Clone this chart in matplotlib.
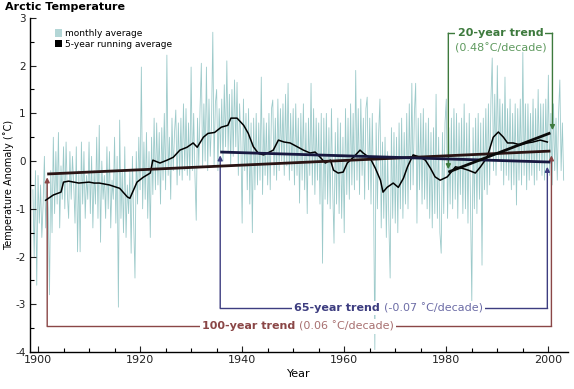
import numpy as np
import matplotlib
matplotlib.use("Agg")
import matplotlib.pyplot as plt
from matplotlib.patches import Patch

# monthly anomaly (4 values per year, 1899 - 2003)
monthly_anom = [
    -0.6, -2.0, -0.2, -2.6,  -0.3, -1.3, -0.5, -1.6,  -0.9, 0.1, -1.4, -0.4,
    -1.0, -2.8, -0.2, -1.5,  0.5, -1.1, 0.2, -0.9,  0.6, -1.4, -0.1, -0.8,
    0.3, -1.0, 0.4, -0.7,  -1.2, 0.2, -0.8, 0.1,  -0.5, -1.3, 0.3, -1.9,
    -0.2, -1.9, 0.4, -0.9,  0.2, -1.2, -0.3, -0.8,  0.4, -1.1, 0.1, -1.4,
    -0.2, -0.9, 0.5, -1.2,  0.75, -1.7, 0.0, -0.8,  -0.3, -1.2, 0.3, -1.0,
    0.2, -1.4, -0.4, -0.8,  0.5, -1.3, 0.1, -3.06,  0.86, -1.2, -0.2, -1.5,
    0.3, -1.6, -0.5, -1.1,  -0.2, -1.93, 0.1, -1.3,  -2.45, 0.2, -0.9, 0.5,
    -0.6, 1.97, -1.0, 0.4,  -0.8, 0.6, -1.2, 0.2,  -1.6, 0.5, -0.7, 0.9,
    -0.6, 0.8, -0.5, 0.6,  -0.9, 0.7, -0.4, 1.0,  -0.6, 2.22, -0.3, 0.5,
    -0.8, 0.9, -0.2, 0.6,  1.07, -0.5, 0.8, -0.3,  0.9, -0.4, 1.2, -0.2,
    1.1, -0.3, 0.8, -0.4,  1.97, -0.2, 1.0, -0.3,  -1.24, 0.9, -0.1, 1.1,
    2.05, -0.1, 1.2, 0.0,  1.97, -0.2, 1.3, 0.1,  0.8, 2.7, -0.1, 1.2,
    1.5, -0.2, 1.1, 0.2,  1.3, 0.0, 1.6, 0.3,  2.1, 0.2, 1.4, -0.1,
    1.5, 0.1, 1.7, 0.3,  1.65, -0.3, 1.2, 0.4,  -1.3, 1.3, -0.2, 1.0,
    -0.6, 1.1, -0.9, 0.8,  -1.5, 0.9, -0.6, 1.0,  -0.5, 0.8, -0.4, 1.76,
    -0.7, 0.9, -0.3, 0.8,  -0.5, 1.0, -0.6, 1.1,  1.28, -0.3, 0.9, -0.4,
    1.3, -0.2, 1.1, 0.0,  1.2, -0.3, 1.4, -0.1,  1.63, -0.4, 1.0, -0.2,
    1.1, -0.5, 1.2, -0.3,  0.9, -0.88, 1.0, -0.4,  1.2, -0.6, 0.8, -1.1,
    0.9, -0.3, 1.63, -0.5,  1.1, -0.7, 0.9, -0.4,  0.8, -0.9, 1.0, -2.14,
    0.9, -0.8, 1.0, -0.9,  0.7, -1.0, 1.1, -0.6,  -1.72, 0.6, -0.9, 0.9,
    -1.1, 0.8, -1.2, 0.5,  -1.5, 1.1, -0.7, 0.9,  -0.8, 1.2, -0.5, 1.0,
    -0.6, 1.9, -0.4, 1.1,  -0.7, 1.3, -0.3, 0.9,  -0.8, 1.1, 1.34, -0.6,
    0.9, -0.9, 1.0, -0.7,  -3.95, 0.8, -1.0, 0.6,  1.3, -1.4, 0.4, -1.2,
    0.5, -1.6, 0.2, -1.3,  -2.45, 0.7, -1.2, 0.6,  -1.3, 0.5, -1.5, 0.8,
    -1.0, 0.9, -1.2, 0.6,  -0.9, 1.0, -1.0, 1.2,  -0.6, 1.63, -0.5, 1.0,
    1.63, -1.3, 0.9, -0.6,  1.0, -0.9, 1.1, -0.8,  0.8, -1.0, 0.9, -1.2,
    0.6, -1.4, 0.7, -1.1,  1.4, -1.2, 0.5, -1.5,  -1.93, 0.6, -1.1, 0.8,
    1.3, -1.2, 0.7, -0.9,  0.9, -1.0, 1.1, -0.8,  1.0, -1.2, 0.8, -0.7,
    0.9, -1.1, 1.2, -1.0,  0.8, -1.3, 1.0, -0.9,  -2.98, 0.7, -1.0, 0.9,
    -1.1, 1.0, -0.8, 0.8,  -2.18, 0.9, -0.6, 1.1,  -0.7, 1.2, -0.5, 1.3,
    2.16, -0.2, 1.4, -0.3,  2.0, 0.0, 1.3, -0.2,  1.2, -0.5, 1.76, -0.3,
    1.1, -0.4, 1.3, -0.6,  1.0, -0.5, 1.2, -0.92,  1.1, -0.4, 1.3, -0.5,
    2.28, -0.3, 1.2, -0.6,  1.2, -0.4, 1.0, -0.3,  1.3, -0.5, 1.1, -0.4,
    1.5, -0.2, 1.2, -0.3,  1.2, -0.4, 1.3, -0.2,  1.8, -0.3, 1.0, -0.5,
    1.2, -0.2, 0.9, -0.4,  1.0, 1.7, -0.2, 0.8,  -0.4,
]
monthly_year = 1899.0 + np.arange(len(monthly_anom)) * 0.25

# 5-year running average
smooth_year = [1901.5, 1903, 1904.5, 1905, 1906, 1907, 1908, 1910, 1911, 1912,
               1914, 1916, 1917.5, 1918, 1919.4, 1920.6, 1922, 1922.5, 1923.9,
               1925.3, 1926.5, 1927.8, 1929.2, 1930.4, 1931.2, 1932.4, 1933.3,
               1934.6, 1935.9, 1937.2, 1937.8, 1939, 1940.3, 1941.2, 1942.2,
               1943.2, 1944.2, 1945, 1946.1, 1947.1, 1948.2, 1949.4, 1950.8,
               1952, 1953.3, 1954.3, 1955.3, 1956.3, 1957.3, 1957.9, 1958.8,
               1959.8, 1960.6, 1961.8, 1963.1, 1963.7, 1965.1, 1966.1, 1967.1,
               1967.6, 1968.4, 1969.6, 1970.6, 1971.6, 1972.4, 1973.5, 1974.9,
               1975.9, 1976.9, 1977.8, 1978.8, 1980.2, 1981.8, 1983.1, 1984.3,
               1985.7, 1986.7, 1988, 1989.2, 1990.2, 1991.2, 1992, 1993.1,
               1994.5, 1995.9, 1997, 1998.4, 1999.8]
smooth_val = [-0.82, -0.71, -0.65, -0.44, -0.42, -0.44, -0.46, -0.44, -0.46, -0.46,
              -0.5, -0.57, -0.75, -0.78, -0.44, -0.34, -0.25, 0.02, -0.04,
              0.02, 0.08, 0.23, 0.29, 0.38, 0.29, 0.5, 0.58,
              0.6, 0.71, 0.75, 0.9, 0.9, 0.75, 0.58, 0.3,
              0.16, 0.13, 0.17, 0.23, 0.44, 0.4, 0.38, 0.3,
              0.23, 0.17, 0.19, 0.08, -0.04, 0.02, -0.19, -0.25,
              -0.23, -0.04, 0.08, 0.23, 0.17, 0.06, -0.15, -0.4,
              -0.65, -0.55, -0.46, -0.55, -0.36, -0.12, 0.13, 0.08,
              0.02, -0.15, -0.33, -0.4, -0.33, -0.12, -0.15, -0.19,
              -0.25, -0.12, 0.08, 0.5, 0.61, 0.5, 0.38, 0.38,
              0.34, 0.38, 0.4, 0.44, 0.4]

# trend lines (start year, end year, start value, end value)
trend_names = ["100-year", "65-year", "20-year"]
trend_rates = ["(0.06 \u02daC/decade)", "(-0.07 \u02daC/decade)", "(0.48\u02daC/decade)"]
trend_x = [[1901.8, 2000.4], [1935.7, 2000.4], [1980.4, 2000.4]]
trend_y = [[-0.27, 0.21], [0.19, -0.02], [-0.23, 0.59]]

brown, brown_l = "#8a4646", "#a87070"
navy, navy_l = "#3d3d80", "#6c6ca6"
green, green_l = "#3d7a3d", "#5f9a5f"

plt.rcParams["font.family"] = "DejaVu Sans"
plt.rcParams["axes.unicode_minus"] = False
fig = plt.figure(figsize=(5.74, 3.89), dpi=100)
ax = fig.add_axes([0.052, 0.095, 0.938, 0.859])

ax.plot(monthly_year, monthly_anom, color="#9ccaca", lw=0.6, zorder=1)
ax.plot(smooth_year, smooth_val, color="black", lw=1.1, zorder=3)

line_cols = ["#2a1414", "#181840", "#0a0a0a"]
for tx, ty, c in zip(trend_x, trend_y, line_cols):
    ax.plot(tx, ty, color=c, lw=2.0, solid_capstyle="butt", zorder=4)

ax.set_xlim(1898.4, 2003.9)
ax.set_ylim(-4, 3)
ax.set_xticks(np.arange(1900, 2001, 20))
ax.set_xticks(np.arange(1900, 2004, 5), minor=True)
ax.set_yticks(np.arange(-4, 4, 1))
ax.set_yticks(np.arange(-4, 3.01, 0.5), minor=True)
ax.tick_params(direction="in", length=4, width=0.8, labelsize=8, pad=2, colors="#222222")
ax.tick_params(which="minor", direction="in", length=3, width=0.8)
ax.tick_params(axis="y", pad=3, labelsize=7.5)
for s in ["top", "right"]:
    ax.spines[s].set_visible(False)
for s in ["left", "bottom"]:
    ax.spines[s].set_linewidth(1.0)

ax.set_xlabel("Year", fontsize=8, labelpad=3)
ax.set_ylabel("Temperature Anomaly (\u02daC)", fontsize=7)
ax.yaxis.set_label_coords(-0.029, 0.5)
fig.text(0.008, 0.995, "Arctic Temperature", fontsize=8, fontweight="bold", va="top")

handles = [Patch(facecolor="#b3d6d6", edgecolor="none"),
           Patch(facecolor="black", edgecolor="none")]
ax.legend(handles, ["monthly average", "5-year running average"], loc="upper left",
          bbox_to_anchor=(0.035, 0.985), frameon=False, fontsize=6.5,
          handlelength=0.8, handleheight=0.9, handletextpad=0.3, labelspacing=0.15,
          borderpad=0.2)

def bracket(x0, x1, ylev, tip0, tip1, col, col_l, name, rate, two_lines=False):
    ax.plot([x0, x1], [ylev, ylev], color=col, lw=1.0, zorder=2)
    for xx, tt in [(x0, tip0), (x1, tip1)]:
        ax.annotate("", xy=(xx, tt), xytext=(xx, ylev),
                    arrowprops=dict(arrowstyle="-|>", color=col, lw=1.0,
                                    mutation_scale=7, shrinkA=0, shrinkB=0),
                    zorder=2)
    xm = 0.5 * (x0 + x1)
    bb = dict(facecolor="white", edgecolor="none", pad=1.5)
    if two_lines:
        ax.text(xm, ylev, name + " trend", color=col, fontsize=8, fontweight="bold",
                ha="center", va="center", bbox=bb, zorder=5)
        ax.text(xm, ylev - 0.32, rate, color=col_l, fontsize=8,
                ha="center", va="center", zorder=5)
    else:
        ax.text(xm, ylev, name + " trend ", color=col, fontsize=8, fontweight="bold",
                ha="right", va="center", bbox=bb, zorder=5)
        ax.text(xm, ylev, rate, color=col_l, fontsize=8,
                ha="left", va="center", bbox=bb, zorder=5)

# 100-year bracket
bracket(trend_x[0][0], trend_x[0][1] + 0.2, -3.46, trend_y[0][0] - 0.07,
        trend_y[0][1] - 0.09, brown, brown_l, trend_names[0], trend_rates[0])
# 65-year bracket
bracket(trend_x[1][0], trend_x[1][1] - 0.6, -3.08, trend_y[1][0] - 0.07,
        trend_y[1][1] - 0.1, navy, navy_l, trend_names[1], trend_rates[1])
# 20-year bracket
bracket(trend_x[2][0], trend_x[2][1] + 0.4, 2.68, trend_y[2][0] + 0.06,
        trend_y[2][1] + 0.06, green, green_l, trend_names[2], trend_rates[2],
        two_lines=True)

fig.savefig("out.png", dpi=100)
